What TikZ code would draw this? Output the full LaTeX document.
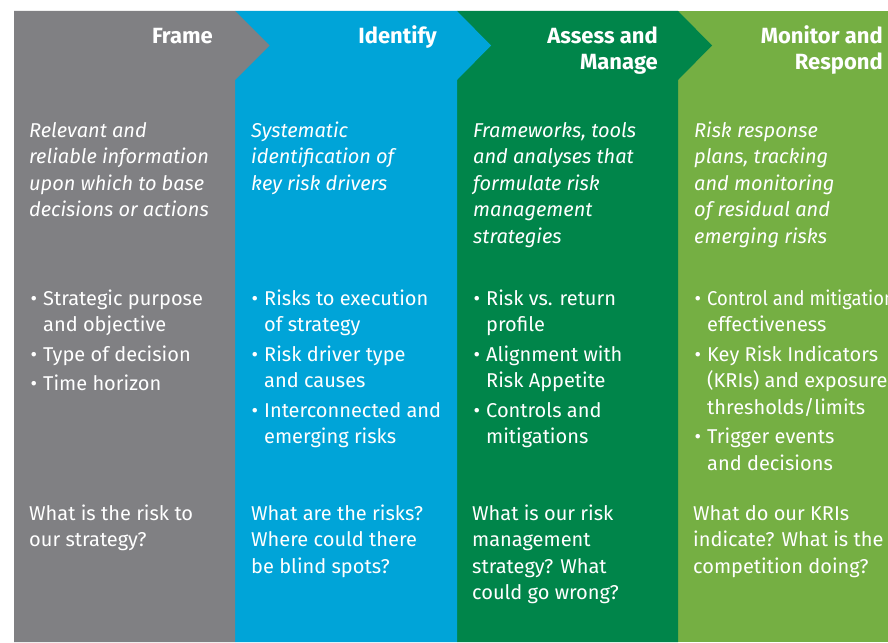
\documentclass[tikz,border=0pt]{standalone}
\usepackage{fontspec}
\usepackage{graphicx}
\setmainfont{Fira Sans}
\definecolor{cframe}{RGB}{128,128,131}
\definecolor{cid}{RGB}{0,164,216}
\definecolor{cass}{RGB}{0,133,74}
\definecolor{cmon}{RGB}{117,175,67}
\newcommand\bitem{\makebox[0pt][r]{\textbullet\hspace{6pt}}}
\begin{document}
\begin{tikzpicture}[x=1pt,y=-1pt,
  head/.style={anchor=base east, inner sep=0, align=right, text=white, font=\bfseries\fontsize{22}{26}\selectfont},
  body/.style={anchor=base west, inner sep=0, align=left, text=white, font=\fontsize{20}{26.5}\selectfont},
  desc/.style={body, font=\itshape\fontsize{20}{26.5}\selectfont}]
\useasboundingbox (0,0) rectangle (888,642);
\fill[white] (0,0) rectangle (888,642);
% panels
\fill[cmon] (678,11) rectangle (888,642);
\fill[cass] (457,11) -- (678,11) -- (712,45.5) -- (678,80) -- (678,642) -- (457,642) -- cycle;
\fill[cid] (235,11) -- (457,11) -- (491,45.5) -- (457,80) -- (457,642) -- (235,642) -- cycle;
\fill[cframe] (14,11) -- (235,11) -- (269.5,45.5) -- (235,80) -- (235,642) -- (14,642) -- cycle;
% headers (anchor = baseline of the last line)
\node[head] (h1) at (213,44) {Frame};
\node[head] (h2) at (437,44) {Identify};
\node[head] (h3) at (658,70) {Assess and\\Manage};
\node[head] (h4) at (883,70) {Monitor and\\Respond};
% descriptions
\node[desc] (d1) at (29,216.5) {Relevant and\\reliable information\\upon which to base\\decisions or actions};
\node[desc] (d2) at (251,190) {Systematic\\identification of\\key risk drivers};
\node[desc] (d3) at (473,243) {Frameworks, tools\\and analyses that\\formulate risk\\management\\strategies};
\node[desc] (d4) at (694,243) {Risk response\\plans, tracking\\and monitoring\\of residual and\\emerging risks};
% bullets
\node[body] (b1) at (43,390.5) {\bitem Strategic purpose\\and objective\\[3pt]\bitem Type of decision\\[3pt]\bitem Time horizon};
\node[body] (b2) at (264,443.5) {\bitem Risks to execution\\of strategy\\[3pt]\bitem Risk driver type\\and causes\\[3pt]\bitem Interconnected and\\emerging risks};
\node[body] (b3) at (486,443.5) {\bitem Risk vs. return\\profile\\[3pt]\bitem Alignment with\\Risk Appetite\\[3pt]\bitem Controls and\\mitigations};
\node[body] (b4) at (707,470) {\bitem \scalebox{0.92}[1]{Control and mitigation}\\effectiveness\\[3pt]\bitem Key Risk Indicators\\(KRIs) and exposure\\thresholds/limits\\[3pt]\bitem Trigger events\\and decisions};
% questions
\node[body] (q1) at (29,546.5) {What is the risk to\\our strategy?};
\node[body] (q2) at (251,573) {What are the risks?\\Where could there\\be blind spots?};
\node[body] (q3) at (472,599.5) {What is our risk\\management\\strategy? What\\could go wrong?};
\node[body] (q4) at (693,573) {What do our KRIs\\indicate? What is the\\competition doing?};
\end{tikzpicture}
\end{document}
